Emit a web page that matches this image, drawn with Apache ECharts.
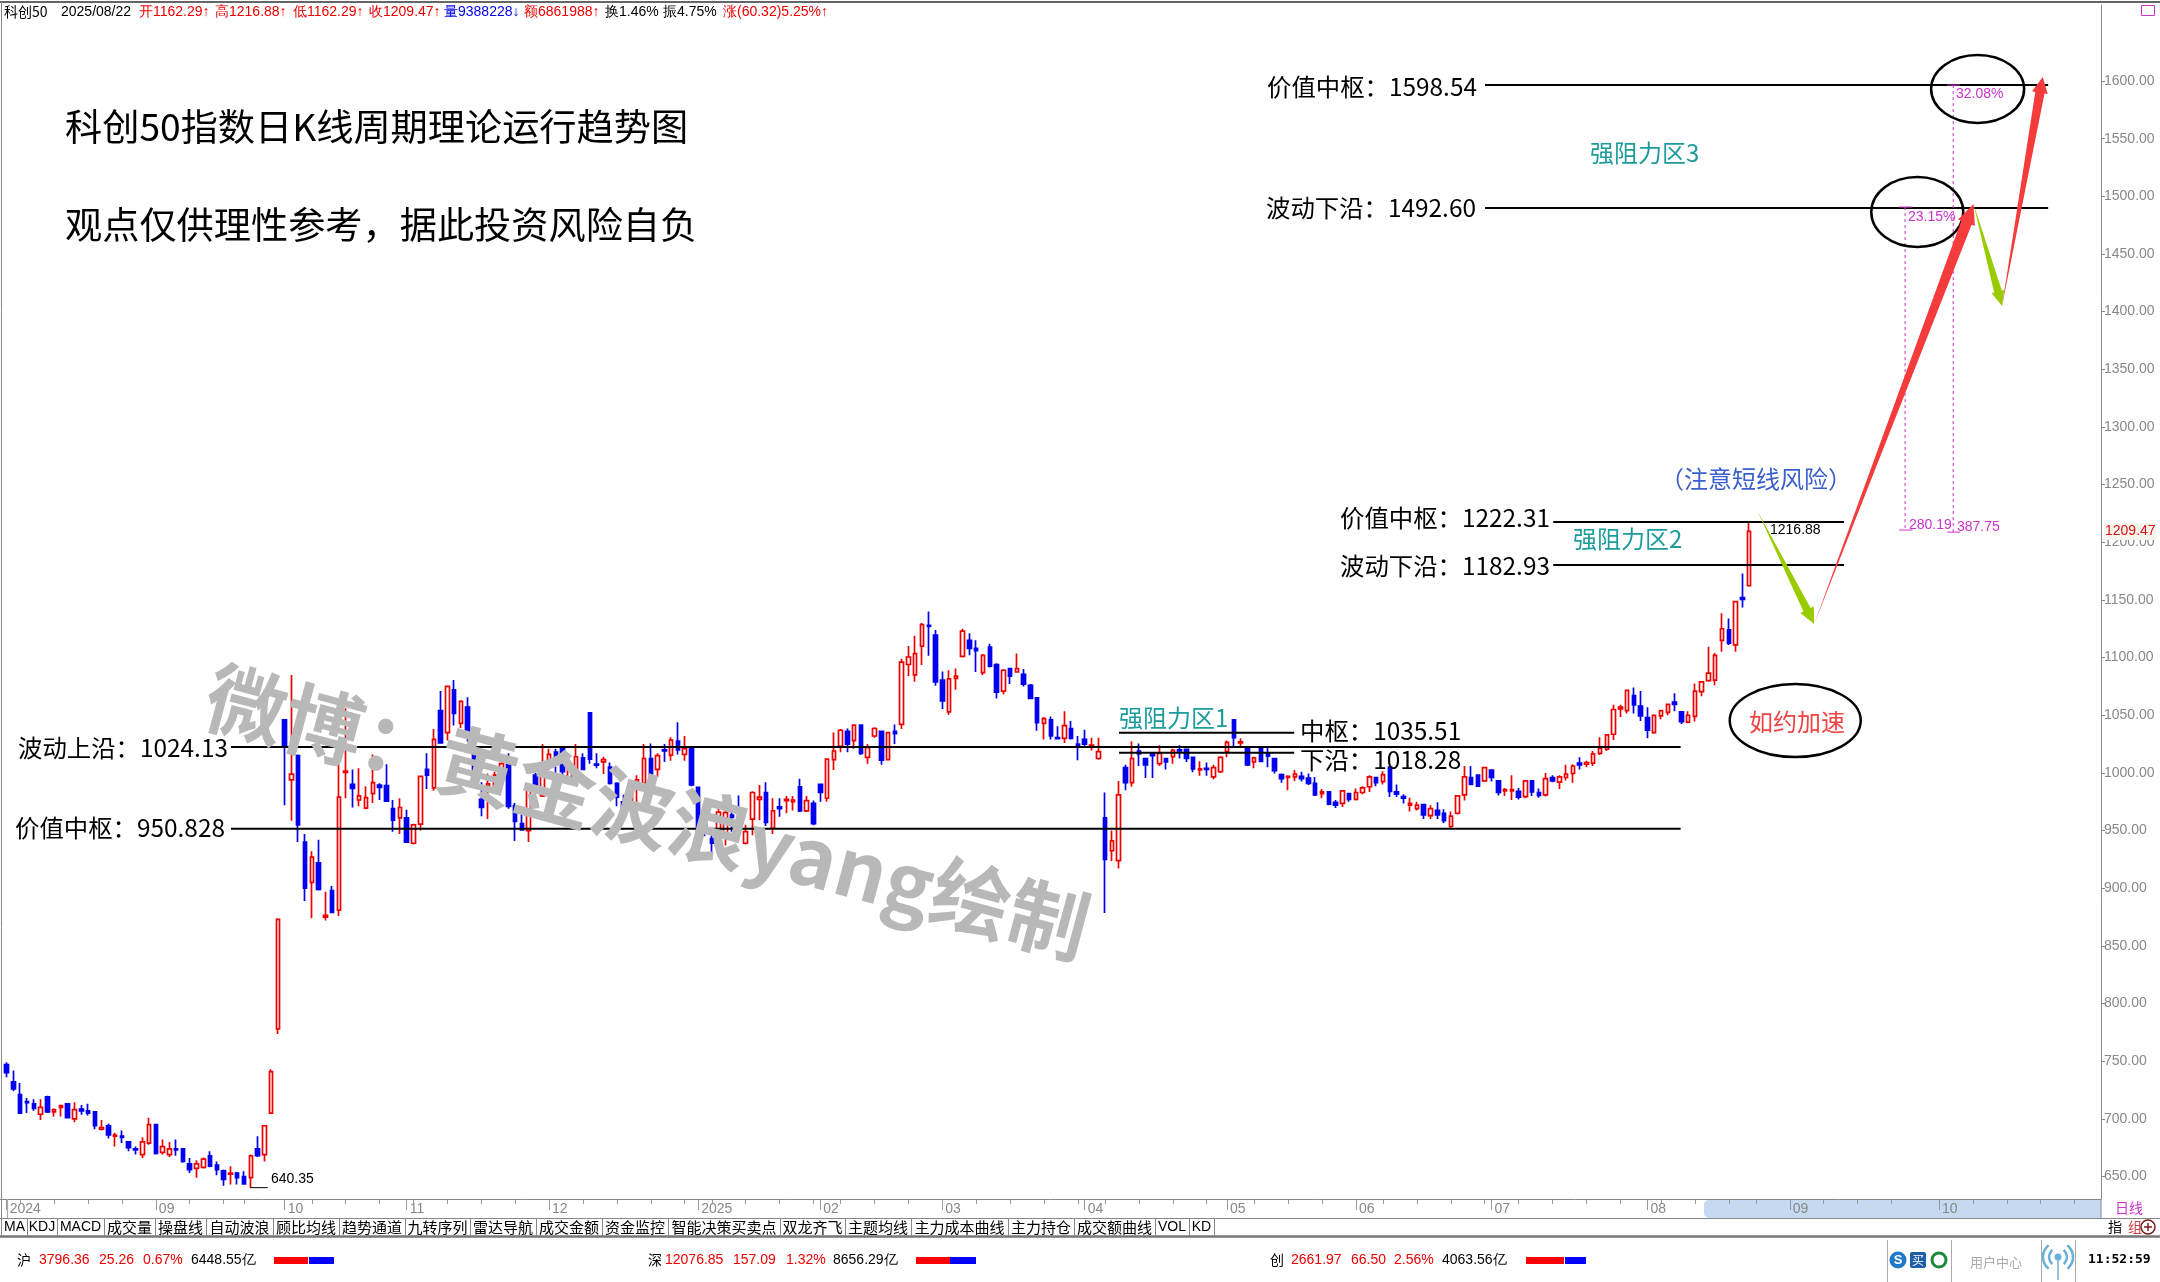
<!DOCTYPE html>
<html>
<head>
<meta charset="utf-8">
<title>科创50</title>
<style>html,body{margin:0;padding:0;background:#fff}#chart-container{width:2160px;height:1282px}</style>
<script src="https://cdn.jsdelivr.net/npm/echarts@6/dist/echarts.min.js"></script>
</head>
<body>
<div id="chart-container"></div>
<script>
// [open, close, low, high], one row per trading day
var candles = [
[747,740,736,749],[732,726,724,742],[721,705,705,731],[715,714,705,718],[713,709,707,717],
[704,710,699,717],[719,706,705,720],[706,708,702,709],[710,711.5,702,712],[713,701,700.5,713],
[700,708,697,714.5],[708.5,707,703.5,712],[707,705,703,713],[706,694,691,706],[691,692.5,690,699],
[694,686,683,696],[685,686,676,688],[685,684,679,690],[680,675,672,680.5],[674,673,669,676],
[669,680,666,684],[679,695,677.5,701],[695,670,669,695],[671,676,669,682],[669,674,667,680],
[674,673,668,682],[674,663,662,674.5],[661,656,653,666],[657,661,649,664],[658,665,657,666.5],
[668,659,658,672],[660,656,651,663],[655,647.5,642,656],[652,653,643,659],[653,649,643,654],
[650,643.5,643,654.5],[649,668,640.35,669],[674,668,667,685],[669,694,663,694.5],[705,741,705,743],
[778,873,773.5,874],[1046,1024,972,1046],[994,999,958.5,1085],[1015,955,940,1016],[940,900,889,947],
[905,927,874,932],[922,899,898,942],[875,876.5,872,897],[898,879,878.5,902],[881,979,876,1014],
[1000.4,1001.5,978,1056],[990,986.5,970,1003],[976.5,980,971,1004],[969.5,978.5,968.5,988.5],[982,991.5,974,1016],
[989.5,987.5,976.5,991],[989,975.5,975,1007.5],[969,959,949,976.5],[961,970,947,978],[961,940,939.5,968],
[939,955,938,956],[955.5,997,950,997.5],[1003,998,986,1017],[987,1029,984.5,1038],[1054,1026,1025.5,1071],
[1035,1075,1028,1075.5],[1072,1051.5,1041,1080.5],[1043,1062,1039,1063],[1057,1033,1027,1065.5],[1021,1001,998,1027],
[977,970,962.5,992],[988.5,990.5,960,999.5],[988,998,986.5,1001],[997,1008,988,1010],[1007,971,969,1017],
[971.5,958,941,974],[956,950.5,950,963.5],[950,985,940,986],[998,988,986,1000],[980,1008,979,1025],
[1010.5,1016,1002.5,1021],[1018,1011,998,1021],[1021,1001,998,1022],[995,1002.5,992,1010],[1002.5,1014,997,1025],
[1013,1003,1002.5,1017],[1052,1012,1008,1052.5],[1007.6,1006.7,1004,1017],[1009.5,1011.5,999,1014],[1005,991,990,1009],
[991,979,971,992],[975,968,965.5,981],[973,982,972,986],[991,994,972,998],[991,1012.5,990,1025],
[1012.5,998.5,996.5,1025.5],[1003,1015,996.5,1017],[1020,1019,1009.5,1025],[1015.5,1028.5,1010.5,1031],[1027.5,1020,1016,1044],
[1016,1021,1010.5,1032],[1022,989.5,988.5,1023],[987.5,949,946,988],[956,950,945,963.5],[943,939,931,952],
[949,966,939,970.5],[947.5,965.5,937,976.5],[963.5,961.5,949,969],[962.5,957.5,949,980.5],[939,949,938,955],
[960,983,946,984],[977,979,959,989.5],[983,957,954,992],[952,967,947,978],[970.5,969,962,978],
[976,977,965,980],[975,976.5,967.5,980],[988,967,966,995],[967,976,966,980],[973.5,956,954.5,976],
[990,983,975,990.5],[978,1012,975,1012.5],[1011.5,1019,1002.5,1035],[1023,1037,1018,1038],[1036,1025,1018,1038.5],
[1028,1041.5,1021,1042],[1041.5,1017,1015.5,1042],[1013.5,1022,1008,1025],[1032,1038.5,1030.5,1039.5],[1036,1011,1007,1036.5],
[1011.5,1035,1011,1035.5],[1036,1034,1025,1042],[1042,1096,1038,1099],[1094,1100.5,1084,1110],[1085,1103.5,1079,1119],
[1110,1128.5,1093.5,1130],[1128,1127,1101.5,1140],[1119.5,1079,1075.5,1124],[1080.5,1062.5,1055.5,1088],[1053,1081.5,1050.5,1089],
[1082,1084,1072,1090.5],[1101,1123,1100,1125],[1115,1108,1102,1121],[1108,1106,1087.5,1115],[1087,1102,1085,1103],
[1109,1092.5,1091.5,1112],[1094,1070,1064.5,1095],[1071,1089,1068,1090],[1090.5,1084,1077,1091],[1087.5,1090.5,1087,1103.5],
[1085.5,1077,1075,1090],[1076,1064.5,1064,1077],[1065,1043.5,1036.5,1065.5],[1043,1047,1029,1048.5],[1046,1032,1029,1049],
[1030.7,1029.8,1029,1040.5],[1030,1041,1026,1053.5],[1038.5,1030,1029,1045],[1025,1024,1011,1032],[1029,1025,1023,1037.5],
[1023.2,1024,1019.5,1030.5],[1012.5,1018.5,1011.5,1030.5],[961,925,878.5,983],[932.5,941,923.5,950],[924,981,917,993],
[1004.5,991.5,985,1007],[991.5,1012.5,988,1027.5],[1019,1016.5,1006,1025.5],[1012.5,1007,995.5,1013],[1016.8,1015,995.5,1017],
[1008,1017,1006,1024],[1012.5,1009.5,1003,1013],[1014,1019.5,1008,1021],[1020,1019,1012.5,1024],[1020.5,1012.5,1009.5,1021],
[1013.5,1003.5,1000.5,1014],[1002.7,1003.6,997.5,1010],[1004,1003,997.5,1009],[996.5,1004.5,994.5,1007],[1001,1013.5,1000,1014.5],
[1018.5,1026.5,1013.5,1028],[1046,1030.5,1022.5,1046],[1026,1027,1022.5,1030],[1022,1007,1006,1023],[1009.5,1013,1004,1014],
[1021.5,1010,1009.5,1022],[1017,1014.5,1005,1022],[1012.5,1002,999.5,1013],[998.5,995,991.5,999.5],[996,997,985,998],
[996.5,999,993,1002.5],[997,995,992.5,1001],[995.5,991,989.5,999.5],[991,981,980,996.5],[982,983.5,978,986],
[983.5,973,972,984],[974.5,972,969.5,976.5],[973.5,984.5,970.5,985],[982,977,975,982.5],[977,983,976,986.5],
[983,987,981.5,988.5],[988,996.5,983.5,998],[996,991.5,988.5,996.5],[992.5,998.5,990,1001.5],[1005,984,979,1006],
[983.5,981.5,979,990],[979.5,978,973.5,981.5],[972,973.5,966.5,978.5],[969,972,967.5,975],[972.5,963.5,960,973],
[963,969,960,972],[967.5,963.5,960,974.5],[965,958.5,956.5,968.5],[953.5,962.5,952.5,966.5],[965,980,964,980.5],
[981,996.5,976,1006],[996,990,989.5,1006],[998,988.5,988,998.5],[993,1004.5,992.5,1005],[1002.5,996,992.5,1003],
[993,983,980.5,993.5],[984.5,985.5,980,987],[984.5,985.5,976.5,998],[984,979,977,987],[979.5,993,978,993.5],
[993,983.5,980,993.5],[983,980.5,978.5,986.5],[981,995,979.5,1000],[996,993,992,998],[992,996.5,986,998],
[996,999,993.5,1007],[999.5,1006,991.5,1007.5],[1008.5,1007,1003,1013.5],[1007.5,1009,1005,1010.5],[1008.5,1016.5,1006,1019],
[1017,1021.5,1015.5,1031],[1020.5,1033,1019,1033.5],[1033.5,1055,1028.5,1059],[1055.5,1057,1048.5,1059],[1054,1071.5,1051.5,1072],
[1067,1059,1051.5,1074],[1058,1049.5,1045,1071],[1048,1037,1030,1057],[1035,1050,1034,1050.5],[1049.5,1054,1046.5,1054.5],
[1052.5,1059.5,1050,1060],[1061.5,1059.5,1053.5,1069],[1053,1044.5,1042.5,1053.5],[1044,1050,1043,1053.5],[1049,1071,1044.5,1077.5],
[1070.5,1079,1066.5,1079.5],[1080,1086.5,1079,1109.5],[1080.5,1102,1076,1104],[1115,1125,1105,1138.5],[1124,1112.5,1111,1134],
[1111,1148.5,1105,1149],[1152,1150.5,1143.5,1173],[1162.29,1209.47,1162.29,1216.88]
];

// time scale, slots past the last candle are the empty future days
var monthLabels = ['2024','09','10','11','12','2025','02','03','04','05','06','07','08','09','10'];
var monthSizes = [22,19,18,21,22,18,18,21,21,19,20,23,21,22,24];
var weekTicks = [2,7,12,17,27,32,35,45,50,55,60,65,70,75,80,85,90,95,100,104,109,114,119,123,128,133,138,143,148,153,158,162,167,172,177,184,189,194,203,208,213,218,223,228,233,238,244,249,254,258,268,273,278,290,295,300,305];
var priceTicks = [650,700,750,800,850,900,950,1000,1050,1100,1150,1200,1250,1300,1350,1400,1450,1500,1550,1600];

// x is in bars (fractions allowed), drawn on the hidden value axis
var levelLines = [[218.05,301.1,1596.5],[218.05,301.1,1489.9],[228.1,271,1217.5],[228.1,271,1180.2],[33.08,246.9,1022.4],[33.08,246.9,951.5],[164.06,189.9,1034.8],[164.06,189.9,1017.5]];
var dashedLines = [[280,1490.7,1210.6],[287.1,1596.5,1208.8]];
var dashTicks = [[279.1,281.1,1490.7],[279.1,281.1,1210.6],[286.2,288.1,1596.5],[286.2,288.1,1208.8]];
var lowMarker = [[35.9,38.5,640.35]];
var arrowPaths = [[258.3,1226.2,266.6,1129.1],[266.6,1129.1,290.1,1493.3],[290.1,1493.3,294.3,1404.9],[294.3,1404.9,300.3,1603.5]];
var arrowColors = ['#99cc00','#f43c3c','#99cc00','#f43c3c'];
var arrowSizes = [[4,7.5,16],[5.5,9,20],[4,6.5,15],[4.7,8,16]];
var ellipseCenters = [[290.7,1593],[281.8,1486.4],[263.8,1045.4]];
var ellipseSizes = [[93,68],[92,70],[131,73]];

var tabLabels = ['MA','KDJ','MACD','成交量','操盘线','自动波浪','顾比均线','趋势通道','九转序列','雷达导航','成交金额','资金监控','智能决策买卖点','双龙齐飞','主题均线','主力成本曲线','主力持仓','成交额曲线','VOL','KD'];
var tabEdges = [2,27,57,104,155,206,273,339,405,470,536,602,668,780,845,911,1008,1074,1155,1189,1214];

var categories = [];
var monthStarts = [];
monthLabels.forEach(function (m, k) {
  monthStarts.push(categories.length);
  for (var d = 0; d < monthSizes[k]; d++) categories.push(m);
});
var slotCount = categories.length;

var CJK = '"Noto Sans CJK SC", sans-serif';
var ARIAL = '"Liberation Sans", Arial, sans-serif';
var RED = '#ee0000', BLUE = '#0000ee', GRAY = '#888888', MAGENTA = '#cc33cc', TEAL = '#1c9c9c';

function txt(x, y, text, color, size, font, extra) {
  return Object.assign({
    type: 'text', x: x, y: y, z: 50, silent: true,
    style: { text: text, fill: color, fontSize: size, fontFamily: font || CJK, verticalAlign: 'middle' }
  }, extra || {});
}
function rect(x, y, w, h, color, z) {
  return { type: 'rect', z: z === undefined ? 50 : z, silent: true, shape: { x: x, y: y, width: w, height: h }, style: { fill: color } };
}
function hv(x1, y1, x2, y2, color, w, z) {
  return { type: 'line', z: z || 40, silent: true, shape: { x1: x1, y1: y1, x2: x2, y2: y2 }, style: { stroke: color, lineWidth: w || 1 } };
}

var graphics = [
  // frame
  hv(0, 2, 2160, 2, '#666', 2), hv(1.5, 2, 1.5, 1236, GRAY),
  hv(0, 1199.5, 2101, 1199.5, GRAY), hv(0, 1218.5, 2160, 1218.5, GRAY), hv(0, 1236.5, 2160, 1236.5, '#777', 2.5),
  hv(2101, 1199, 2101, 1218, GRAY), hv(7.5, 1199, 7.5, 1218, '#aaa'),
  { type: 'rect', z: -1, silent: true, shape: { x: 1704, y: 1200, width: 397, height: 18, r: [5, 0, 0, 5] }, style: { fill: '#c5d9f1' } },
  // header row
  txt(4, 12, '科创50', '#000', 14), txt(61, 12, '2025/08/22', '#000', 14, ARIAL),
  txt(139, 12, '开1162.29↑', RED, 14, ARIAL), txt(215, 12, '高1216.88↑', RED, 14, ARIAL),
  txt(293, 12, '低1162.29↑', RED, 14, ARIAL), txt(369, 12, '收1209.47↑', RED, 14, ARIAL),
  txt(444, 12, '量9388228↓', BLUE, 14, ARIAL), txt(524, 12, '额6861988↑', RED, 14, ARIAL),
  txt(605, 12, '换1.46%', '#000', 14, ARIAL), txt(663, 12, '振4.75%', '#000', 14, ARIAL),
  txt(723, 12, '涨(60.32)5.25%↑', RED, 14, ARIAL),
  { type: 'rect', z: 50, silent: true, shape: { x: 2141.5, y: 5.5, width: 13, height: 10 }, style: { fill: 'none', stroke: MAGENTA } },
  // titles
  txt(65, 127, '科创50指数日K线周期理论运行趋势图', '#000', 37.2),
  txt(65, 225, '观点仅供理性参考，据此投资风险自负', '#000', 37.2),
  // level labels
  txt(1267, 87, '价值中枢：1598.54', '#000', 24.4), txt(1266, 208, '波动下沿：1492.60', '#000', 24.4),
  txt(1340, 518, '价值中枢：1222.31', '#000', 24.4), txt(1340, 566, '波动下沿：1182.93', '#000', 24.4),
  txt(18, 748, '波动上沿：1024.13', '#000', 24.4), txt(15, 828, '价值中枢：950.828', '#000', 24.4),
  txt(1300, 731, '中枢：1035.51', '#000', 24.4), txt(1300, 760, '下沿：1018.28', '#000', 24.4),
  txt(1119, 718, '强阻力区1', TEAL, 24), txt(1573, 539, '强阻力区2', TEAL, 24), txt(1590, 153, '强阻力区3', TEAL, 24),
  txt(1660, 479, '（注意短线风险）', '#3a5fcd', 24), txt(1749, 722, '如约加速', '#ee4444', 24),
  // small value tags
  txt(1770, 530, '1216.88', '#000', 14, ARIAL), txt(271, 1179, '640.35', '#000', 14, ARIAL),
  txt(1908, 217, '23.15%', MAGENTA, 14, ARIAL), txt(1956, 94, '32.08%', MAGENTA, 14, ARIAL),
  txt(1909, 525, '280.19', MAGENTA, 14, ARIAL), txt(1957, 527, '387.75', MAGENTA, 14, ARIAL),
  rect(2104, 523, 52, 17, '#f5f5ee', 45), txt(2105, 531, '1209.47', '#dd1111', 14, ARIAL),
  // watermark
  { type: 'text', x: 208, y: 694, rotation: -0.262, z: 60, silent: true,
    style: { text: '微博：黄金波浪yang绘制', fill: '#b8b8b8', fontSize: 80, fontWeight: 'bold', fontFamily: CJK, verticalAlign: 'middle' } },
  // right end of the scale rows
  txt(2115, 1208, '日线', MAGENTA, 14), txt(2108, 1227, '指', '#000', 14), txt(2128, 1227, '组', '#cc4444', 14),
  { type: 'circle', z: 50, silent: true, shape: { cx: 2148, cy: 1227, r: 7 }, style: { fill: '#fff', stroke: '#7a1a1a', lineWidth: 1.5 } },
  hv(2144, 1227, 2152, 1227, '#7a1a1a', 1.5, 55), hv(2148, 1223, 2148, 1231, '#7a1a1a', 1.5, 55),
  // status row
  txt(17, 1260, '沪', '#000', 14), txt(39, 1260, '3796.36', RED, 14, ARIAL), txt(99, 1260, '25.26', RED, 14, ARIAL),
  txt(143, 1260, '0.67%', RED, 14, ARIAL), txt(191, 1260, '6448.55亿', '#000', 14, ARIAL),
  rect(274, 1257, 34, 7, '#ff0000'), rect(309, 1257, 25, 7, '#0000ff'),
  txt(648, 1260, '深', '#000', 14), txt(665, 1260, '12076.85', RED, 14, ARIAL), txt(733, 1260, '157.09', RED, 14, ARIAL),
  txt(786, 1260, '1.32%', RED, 14, ARIAL), txt(833, 1260, '8656.29亿', '#000', 14, ARIAL),
  rect(916, 1257, 34, 7, '#ff0000'), rect(950, 1257, 26, 7, '#0000ff'),
  txt(1270, 1260, '创', '#000', 14), txt(1291, 1260, '2661.97', RED, 14, ARIAL), txt(1351, 1260, '66.50', RED, 14, ARIAL),
  txt(1394, 1260, '2.56%', RED, 14, ARIAL), txt(1442, 1260, '4063.56亿', '#000', 14, ARIAL),
  rect(1526, 1257, 38, 7, '#ff0000'), rect(1565, 1257, 21, 7, '#0000ff'),
  hv(1887.5, 1240, 1887.5, 1282, '#aaa'), hv(1951.5, 1240, 1951.5, 1282, '#aaa'),
  hv(2041.5, 1240, 2041.5, 1282, '#aaa'), hv(2075.5, 1240, 2075.5, 1282, '#aaa'),
  { type: 'circle', z: 50, silent: true, shape: { cx: 1898, cy: 1260, r: 8.5 }, style: { fill: '#1f78c8' } },
  txt(1898, 1260, 'S', '#fff', 13, ARIAL, { style: { text: 'S', fill: '#fff', fontSize: 13, fontWeight: 'bold', fontFamily: ARIAL, align: 'center', verticalAlign: 'middle' } }),
  { type: 'rect', z: 50, silent: true, shape: { x: 1910, y: 1252, width: 16, height: 16, r: 2 }, style: { fill: '#1f5fa8' } },
  txt(1918, 1260, '买', '#fff', 12, CJK, { style: { text: '买', fill: '#fff', fontSize: 12, fontFamily: CJK, align: 'center', verticalAlign: 'middle' } }),
  { type: 'circle', z: 50, silent: true, shape: { cx: 1939, cy: 1260, r: 7 }, style: { fill: '#fff', stroke: '#1a8a3a', lineWidth: 3 } },
  txt(1970, 1262, '用户中心', '#aaa', 13),
  { type: 'circle', z: 50, silent: true, shape: { cx: 2058, cy: 1257, r: 3.5 }, style: { fill: '#6ab0d8' } },
  hv(2058, 1257, 2058, 1280, '#9ac4dc', 2),
  { type: 'arc', z: 50, silent: true, shape: { cx: 2058, cy: 1257, r: 9, startAngle: -0.9, endAngle: 0.9 }, style: { fill: 'none', stroke: '#6ab0d8', lineWidth: 2.5 } },
  { type: 'arc', z: 50, silent: true, shape: { cx: 2058, cy: 1257, r: 9, startAngle: Math.PI - 0.9, endAngle: Math.PI + 0.9 }, style: { fill: 'none', stroke: '#6ab0d8', lineWidth: 2.5 } },
  { type: 'arc', z: 50, silent: true, shape: { cx: 2058, cy: 1257, r: 15, startAngle: -0.9, endAngle: 0.9 }, style: { fill: 'none', stroke: '#6ab0d8', lineWidth: 2.5 } },
  { type: 'arc', z: 50, silent: true, shape: { cx: 2058, cy: 1257, r: 15, startAngle: Math.PI - 0.9, endAngle: Math.PI + 0.9 }, style: { fill: 'none', stroke: '#6ab0d8', lineWidth: 2.5 } },
  txt(2088, 1260, '11:52:59', '#000', 14, '"DejaVu Sans Mono", monospace', { style: { text: '11:52:59', fill: '#000', fontSize: 13, fontWeight: 'bold', fontFamily: '"DejaVu Sans Mono", monospace', verticalAlign: 'middle' } })
];

// indicator tabs along the bottom
tabLabels.forEach(function (t, i) {
  var x0 = tabEdges[i], x1 = tabEdges[i + 1];
  var latin = i < 3 || i > 17;
  graphics.push(hv(x1 + 0.5, 1219, x1 + 0.5, 1236, GRAY));
  graphics.push({ type: 'text', x: (x0 + x1) / 2, y: 1227, z: 50, silent: true,
    style: { text: t, fill: '#000', fontSize: latin ? 14 : 15, fontFamily: latin ? ARIAL : CJK, align: 'center', verticalAlign: 'middle' } });
});

// horizontal segments: [x0, x1, price]
function segmentRender(color, width) {
  return function (params, api) {
    var a = api.coord([api.value(0), api.value(2)]);
    var b = api.coord([api.value(1), api.value(2)]);
    return { type: 'line', shape: { x1: a[0], y1: a[1], x2: b[0], y2: b[1] }, style: { stroke: color, lineWidth: width } };
  };
}
function segmentSeries(data, color, width, z) {
  return { type: 'custom', xAxisIndex: 1, yAxisIndex: 0, z: z, silent: true, clip: false, data: data,
    encode: { x: [0, 1], y: 2 }, renderItem: segmentRender(color, width) };
}

var option = {
  animation: false,
  backgroundColor: '#fff',
  grid: { left: 3.3, width: 2095, top: 5, height: 1194 },
  xAxis: [
    {
      type: 'category', data: categories, boundaryGap: true, position: 'bottom',
      axisLine: { show: false },
      axisTick: { show: true, alignWithLabel: true, length: 5, lineStyle: { color: '#999' },
        interval: function (i) { return weekTicks.indexOf(i) >= 0; } },
      axisLabel: { color: GRAY, fontSize: 14, fontFamily: ARIAL, margin: 3, align: 'left', padding: [0, 0, 0, 3], hideOverlap: false,
        interval: function (i) { return monthStarts.indexOf(i) >= 0; } }
    },
    { type: 'value', min: -0.5, max: slotCount - 0.5, show: false },
    {
      type: 'category', data: categories, boundaryGap: true, position: 'bottom',
      axisLine: { show: false },
      axisLabel: { show: false },
      axisTick: { show: true, alignWithLabel: true, length: 11, lineStyle: { color: '#999' },
        interval: function (i) { return monthStarts.indexOf(i) >= 0; } }
    }
  ],
  yAxis: [{
    type: 'value', position: 'right', offset: 2.7, min: 630.5, max: 1665.9, scale: true,
    axisLine: { show: true, onZero: false, lineStyle: { color: GRAY } },
    axisTick: { show: true, length: 4, lineStyle: { color: GRAY }, customValues: priceTicks },
    splitLine: { show: false },
    axisLabel: { color: GRAY, fontSize: 14, fontFamily: ARIAL, margin: 3, customValues: priceTicks,
      formatter: function (v) { return v.toFixed(2); } }
  }],
  series: [
    {
      type: 'candlestick', name: '科创50', xAxisIndex: 0, yAxisIndex: 0, z: 2, barWidth: 4, clip: false,
      data: candles,
      itemStyle: { color: '#ffffff', color0: BLUE, borderColor: RED, borderColor0: BLUE, borderWidth: 1.7 }
    },
    segmentSeries(levelLines, '#000', 2, 5),
    segmentSeries(dashTicks, MAGENTA, 1, 6),
    segmentSeries(lowMarker, '#000', 1, 6),
    {
      type: 'custom', xAxisIndex: 1, yAxisIndex: 0, z: 6, silent: true, clip: false, data: dashedLines,
      encode: { x: 0, y: [1, 2] },
      renderItem: function (params, api) {
        var a = api.coord([api.value(0), api.value(1)]);
        var b = api.coord([api.value(0), api.value(2)]);
        return { type: 'line', shape: { x1: a[0], y1: a[1], x2: b[0], y2: b[1] },
          style: { stroke: MAGENTA, lineWidth: 1, lineDash: [3, 3] } };
      }
    },
    {
      type: 'custom', xAxisIndex: 1, yAxisIndex: 0, z: 7, silent: true, clip: false, data: ellipseCenters,
      encode: { x: 0, y: 1 },
      renderItem: function (params, api) {
        var c = api.coord([api.value(0), api.value(1)]);
        var s = ellipseSizes[params.dataIndex];
        return { type: 'ellipse', shape: { cx: c[0], cy: c[1], rx: s[0] / 2, ry: s[1] / 2 },
          style: { fill: 'none', stroke: '#000', lineWidth: 2.5 } };
      }
    },
    {
      // arrows taper from a point at the start to a wide head at the tip
      type: 'custom', xAxisIndex: 1, yAxisIndex: 0, z: 8, silent: true, clip: false, data: arrowPaths,
      encode: { x: [0, 2], y: [1, 3] },
      renderItem: function (params, api) {
        var s = api.coord([api.value(0), api.value(1)]);
        var t = api.coord([api.value(2), api.value(3)]);
        var size = arrowSizes[params.dataIndex];
        var dx = t[0] - s[0], dy = t[1] - s[1], len = Math.sqrt(dx * dx + dy * dy);
        var ux = dx / len, uy = dy / len, nx = -uy, ny = ux;
        var bx = t[0] - ux * size[2], by = t[1] - uy * size[2];
        return {
          type: 'polygon',
          shape: { points: [
            s,
            [bx + nx * size[0], by + ny * size[0]],
            [bx + nx * size[1], by + ny * size[1]],
            t,
            [bx - nx * size[1], by - ny * size[1]],
            [bx - nx * size[0], by - ny * size[0]]
          ] },
          style: { fill: arrowColors[params.dataIndex] }
        };
      }
    }
  ],
  graphic: { elements: graphics }
};

var dom = document.getElementById('chart-container');
var myChart = echarts.init(dom, null, { renderer: 'canvas' });
myChart.setOption(option);
window.addEventListener('resize', myChart.resize);
</script>
</body>
</html>
